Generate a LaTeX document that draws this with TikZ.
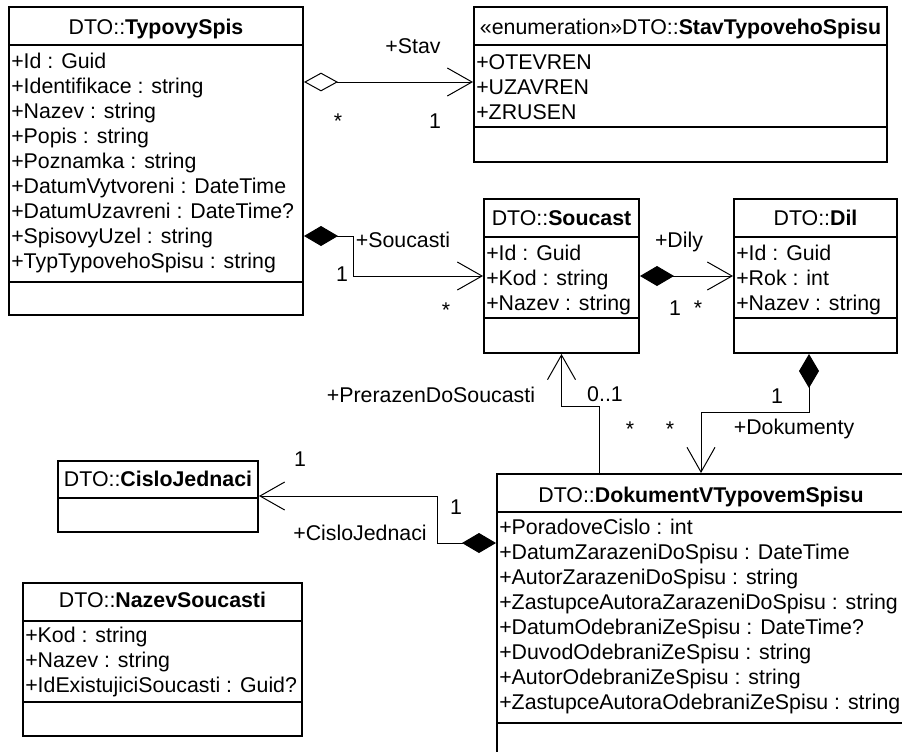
\documentclass[tikz,border=0pt]{standalone}
\usepackage{fontspec}
\setmainfont{Liberation Sans}
\usetikzlibrary{arrows.meta,fit,calc}

\tikzset{
  classbox/.style={draw, line width=1.5pt, inner sep=0pt, fit={#1}},
  rule/.style={line width=1.5pt},
  attr/.style={anchor=base west, inner sep=0pt},
  ttl/.style={anchor=base, inner sep=0pt},
  lbl/.style={anchor=base, inner sep=0pt},
  assoc/.style={line width=0.75pt, line join=miter},
  navi/.tip={Straight Barb[length=18.5pt, width=21pt, line width=0.75pt]},
  comp/.tip={Diamond[length=25.5pt, width=15pt, line join=miter]},
  aggr/.tip={Diamond[open, length=25.5pt, width=14pt, line join=miter]},
}

\begin{document}
\begin{tikzpicture}[x=0.75pt, y=-0.75pt, font=\fontsize{16}{19}\selectfont]
\clip (0,0) rectangle (902,751);
\fill[white] (0,0) rectangle (902,751);

% ---- class outlines ----
\node[classbox={(9,7) (303,315)}]    (ts) {};
\node[classbox={(474,7) (887,162)}]  (st) {};
\node[classbox={(484,199) (639,353)}] (so) {};
\node[classbox={(734,199) (897,353)}] (dl) {};
\node[classbox={(58,461) (258,532)}]  (cj) {};
\node[classbox={(23,583) (302,736)}]  (ns) {};
\node[classbox={(497,474) (908,770)}] (dk) {};

% ---- compartment rules ----
\draw[rule] (9,45) -- (303,45);   \draw[rule] (9,282) -- (303,282);
\draw[rule] (474,45) -- (887,45); \draw[rule] (474,127) -- (887,127);
\draw[rule] (484,237) -- (639,237); \draw[rule] (484,318) -- (639,318);
\draw[rule] (734,237) -- (897,237); \draw[rule] (734,318) -- (897,318);
\draw[rule] (58,498) -- (258,498);
\draw[rule] (23,621) -- (302,621); \draw[rule] (23,702) -- (302,702);
\draw[rule] (497,512) -- (908,512); \draw[rule] (497,723) -- (908,723);

% ---- DTO::TypovySpis ----
\node[ttl] (ts-t) at (156,34) {DTO::\textbf{TypovySpis}};
\node[attr] (ts-a1) at (11,68)  {+Id : Guid};
\node[attr] (ts-a2) at (11,93)  {+Identifikace : string};
\node[attr] (ts-a3) at (11,118) {+Nazev : string};
\node[attr] (ts-a4) at (11,143) {+Popis : string};
\node[attr] (ts-a5) at (11,168) {+Poznamka : string};
\node[attr] (ts-a6) at (11,193) {+DatumVytvoreni : DateTime};
\node[attr] (ts-a7) at (11,218) {+DatumUzavreni : DateTime?};
\node[attr] (ts-a8) at (11,243) {+SpisovyUzel : string};
\node[attr] (ts-a9) at (11,268) {+TypTypovehoSpisu : string};

% ---- DTO::StavTypovehoSpisu ----
\node[ttl] (st-t) at (680.5,34) {«enumeration»DTO::\textbf{StavTypovehoSpisu}};
\node[attr] (st-a1) at (476,69)  {+OTEVREN};
\node[attr] (st-a2) at (476,94)  {+UZAVREN};
\node[attr] (st-a3) at (476,119) {+ZRUSEN};

% ---- DTO::Soucast ----
\node[ttl] (so-t) at (561.5,225) {DTO::\textbf{Soucast}};
\node[attr] (so-a1) at (486,260) {+Id : Guid};
\node[attr] (so-a2) at (486,285) {+Kod : string};
\node[attr] (so-a3) at (486,310) {+Nazev : string};

% ---- DTO::Dil ----
\node[ttl] (dl-t) at (815.5,225) {DTO::\textbf{Dil}};
\node[attr] (dl-a1) at (736,260) {+Id : Guid};
\node[attr] (dl-a2) at (736,285) {+Rok : int};
\node[attr] (dl-a3) at (736,310) {+Nazev : string};

% ---- DTO::CisloJednaci ----
\node[ttl] (cj-t) at (158,486) {DTO::\textbf{CisloJednaci}};

% ---- DTO::NazevSoucasti ----
\node[ttl] (ns-t) at (162.5,607) {DTO::\textbf{NazevSoucasti}};
\node[attr] (ns-a1) at (25,642) {+Kod : string};
\node[attr] (ns-a2) at (25,667) {+Nazev : string};
\node[attr] (ns-a3) at (25,692) {+IdExistujiciSoucasti : Guid?};

% ---- DTO::DokumentVTypovemSpisu ----
\node[ttl] (dk-t) at (701,502) {DTO::\textbf{DokumentVTypovemSpisu}};
\node[attr] (dk-a1) at (499,534) {+PoradoveCislo : int};
\node[attr] (dk-a2) at (499,559) {+DatumZarazeniDoSpisu : DateTime};
\node[attr] (dk-a3) at (499,584) {+AutorZarazeniDoSpisu : string};
\node[attr] (dk-a4) at (499,609) {+ZastupceAutoraZarazeniDoSpisu : string};
\node[attr] (dk-a5) at (499,634) {+DatumOdebraniZeSpisu : DateTime?};
\node[attr] (dk-a6) at (499,659) {+DuvodOdebraniZeSpisu : string};
\node[attr] (dk-a7) at (499,684) {+AutorOdebraniZeSpisu : string};
\node[attr] (dk-a8) at (499,709) {+ZastupceAutoraOdebraniZeSpisu : string};

% ---- associations ----
% TypovySpis o-> StavTypovehoSpisu
\draw[assoc, {aggr}-{navi}] ($(ts.north east)+(0,76)$) -- ($(st.north west)+(0,76)$);
% TypovySpis *-> Soucast
\draw[assoc, {comp}-{navi}] ($(ts.north east)+(0,230)$) -- ++(49,0) |- ($(so.north west)+(0,78)$);
% Soucast *-> Dil
\draw[assoc, {comp}-{navi}] ($(so.north east)+(0,78)$) -- ($(dl.north west)+(0,78)$);
% DokumentVTypovemSpisu -> Soucast
\draw[assoc, -{navi}] ($(dk.north west)+(103,0)$) -- ++(0,-67) -| (so.south);
% Dil *-> DokumentVTypovemSpisu
\draw[assoc, {comp}-{navi}] ($(dl.south west)+(76,0)$) -- ++(0,58) -| ($(dk.north west)+(205,0)$);
% DokumentVTypovemSpisu *-> CisloJednaci
\draw[assoc, {comp}-{navi}] ($(dk.north west)+(0,70)$) -- ++(-59,0) |- ($(cj.north east)+(0,36)$);

% ---- role names and multiplicities ----
\node[lbl] (l-stav)  at (413,53)  {+Stav};
\node[lbl] (m-stav1) at (338,128) {*};
\node[lbl] (m-stav2) at (435,128) {1};

\node[lbl] (l-souc)  at (403,247) {+Soucasti};
\node[lbl] (m-souc1) at (342,281) {1};
\node[lbl] (m-souc2) at (446,317) {*};

\node[lbl] (l-dily)  at (679,247) {+Dily};
\node[lbl] (m-dily1) at (675,315) {1};
\node[lbl] (m-dily2) at (698,315) {*};

\node[lbl] (l-prer)  at (431,402) {+PrerazenDoSoucasti};
\node[lbl] (m-prer1) at (605,401) {0..1};
\node[lbl] (m-prer2) at (630,436) {*};

\node[lbl] (m-dok2)  at (670,436) {*};
\node[lbl] (m-dok1)  at (777,403) {1};
\node[lbl] (l-dok)   at (794,434) {+Dokumenty};

\node[lbl] (m-cj1)   at (300,466) {1};
\node[lbl] (m-cj2)   at (456,514) {1};
\node[lbl] (l-cj)    at (360,540) {+CisloJednaci};
\end{tikzpicture}
\end{document}
